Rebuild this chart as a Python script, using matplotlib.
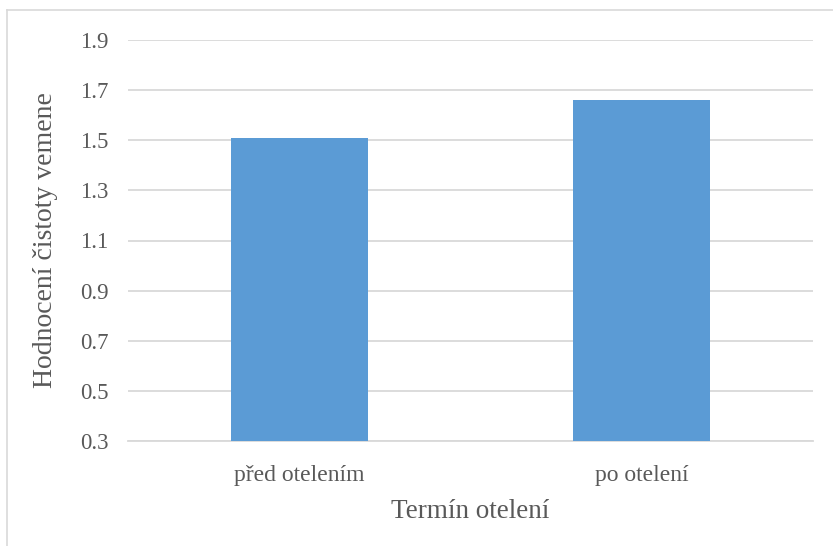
import matplotlib.pyplot as plt
from matplotlib.lines import Line2D

# Data.
categories = ["před otelením", "po otelení"]
values = [1.51, 1.66]
yticks = [0.3, 0.5, 0.7, 0.9, 1.1, 1.3, 1.5, 1.7, 1.9]

plt.rcParams["font.family"] = ["Liberation Serif", "DejaVu Serif"]
text_color = "#595959"

fig = plt.figure(figsize=(8.33, 5.46), dpi=100)
ax = fig.add_axes([128 / 833, 1 - 441 / 546, (813 - 128) / 833, (441 - 40) / 546])

ax.bar(range(len(categories)), values, width=0.4, color="#5B9BD5", zorder=3)
ax.set_xlim(-0.5, 1.5)
ax.set_ylim(0.3, 1.9)
ax.set_yticks(yticks)
ax.set_yticklabels([f"{t:.1f}" for t in yticks])
ax.set_xticks(range(len(categories)))
ax.set_xticklabels(categories)

ax.grid(axis="y", color="#D9D9D9", linewidth=1.3, zorder=0)
for s in ["top", "right", "left"]:
    ax.spines[s].set_visible(False)
ax.spines["bottom"].set_color("#D9D9D9")
ax.spines["bottom"].set_linewidth(1.3)
ax.tick_params(length=0, colors=text_color)
ax.tick_params(axis="y", labelsize=16.5, pad=14)
ax.tick_params(axis="x", labelsize=17, pad=17)

ax.set_xlabel("Termín otelení", fontsize=19.5, color=text_color, labelpad=10)
ax.set_ylabel("Hodnocení čistoty vemene", fontsize=20, color=text_color, labelpad=16)

# chart border, cut off at the right and bottom of the image
fig.add_artist(Line2D([7 / 833, 7 / 833], [0, 1 - 10 / 546], color="#D9D9D9", lw=1.2))
fig.add_artist(Line2D([7 / 833, 1], [1 - 10 / 546, 1 - 10 / 546], color="#D9D9D9", lw=1.2))

fig.savefig("out.png", dpi=100)
